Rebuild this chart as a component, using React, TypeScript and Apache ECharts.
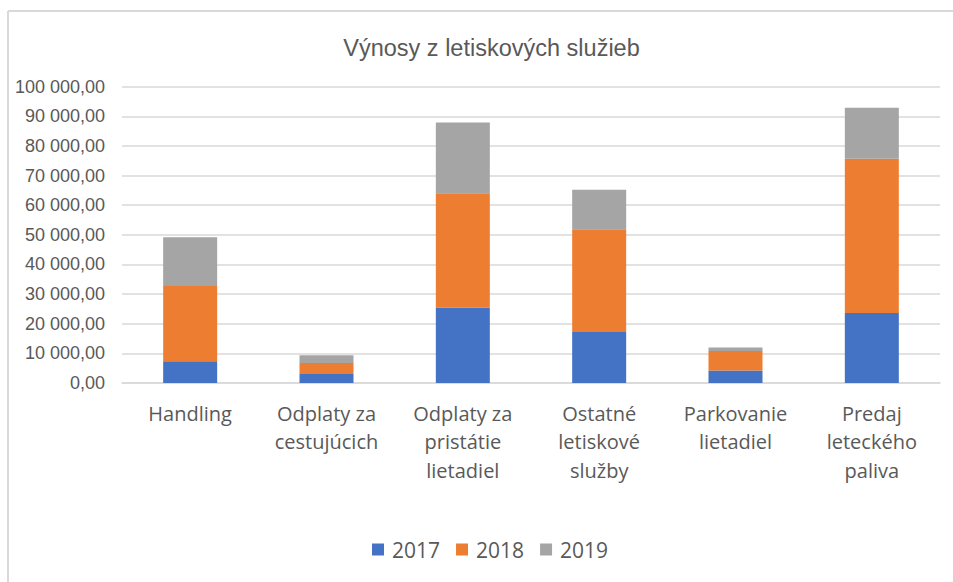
import React, { useEffect, useRef } from "react";
import * as echarts from "echarts";

const categories = [
  "Handling",
  "Odplaty za\ncestujúcich",
  "Odplaty za\npristátie\nlietadiel",
  "Ostatné\nletiskové\nslužby",
  "Parkovanie\nlietadiel",
  "Predaj\nleteckého\npaliva",
];
const years = ["2017", "2018", "2019"];
const values2017 = [7300, 3000, 25500, 17200, 4200, 23600];
const values2018 = [25400, 3750, 38500, 34700, 6600, 52100];
const values2019 = [16500, 2650, 23900, 13300, 1200, 17200];
const colors = ["#4472c4", "#ed7d31", "#a5a5a5"];

function fmt(v: number): string {
  const parts = Math.round(v).toString().replace(/\B(?=(\d{3})+(?!\d))/g, " ");
  return parts + ",00";
}

export default function App() {
  const ref = useRef<HTMLDivElement>(null);
  useEffect(() => {
    document.body.style.margin = "0";
    const chart = echarts.init(ref.current!, null, { renderer: "svg" });
    const seriesData = [values2017, values2018, values2019];
    chart.setOption({
      animation: false,
      backgroundColor: "#ffffff",
      title: {
        text: "Výnosy z letiskových služieb",
        left: 486.5,
        top: 31,
        textAlign: "center",
        textStyle: {
          fontFamily: "Liberation Sans",
          fontSize: 23.5,
          fontWeight: "normal",
          color: "#595959",
        },
      },
      graphic: [
        {
          type: "line",
          shape: { x1: 8, y1: 11, x2: 953, y2: 11 },
          style: { stroke: "#d9d9d9", lineWidth: 2 },
        },
        {
          type: "line",
          shape: { x1: 8, y1: 11, x2: 8, y2: 582 },
          style: { stroke: "#d9d9d9", lineWidth: 2 },
        },
      ],
      legend: {
        data: years,
        top: 534,
        left: 367,
        itemWidth: 12,
        itemHeight: 12,
        itemGap: 16,
        icon: "rect",
        textStyle: {
          fontFamily: "Open Sans",
          fontSize: 21,
          color: "#595959",
          padding: [0, 0, 0, 3],
        },
      },
      grid: { left: 122, right: 13, top: 86.7, bottom: 199, containLabel: false },
      xAxis: {
        type: "category",
        data: categories,
        axisLine: { lineStyle: { color: "#d9d9d9", width: 1.5 } },
        axisTick: { show: false },
        axisLabel: {
          interval: 0,
          margin: 16,
          fontFamily: "Open Sans",
          fontSize: 20,
          lineHeight: 28.5,
          color: "#595959",
        },
      },
      yAxis: {
        type: "value",
        min: 0,
        max: 100000,
        interval: 10000,
        axisLine: { show: false },
        axisTick: { show: false },
        splitLine: { lineStyle: { color: "#d9d9d9", width: 1.5 } },
        axisLabel: {
          formatter: (v: number) => fmt(v),
          margin: 17,
          fontFamily: "Liberation Sans",
          fontSize: 18,
          color: "#595959",
        },
      },
      series: years.map((y, i) => ({
        name: y,
        type: "bar",
        stack: "total",
        barWidth: 54,
        data: seriesData[i],
        itemStyle: { color: colors[i] },
      })),
    });
    return () => chart.dispose();
  }, []);
  return <div ref={ref} style={{ width: 953, height: 582 }} />;
}
